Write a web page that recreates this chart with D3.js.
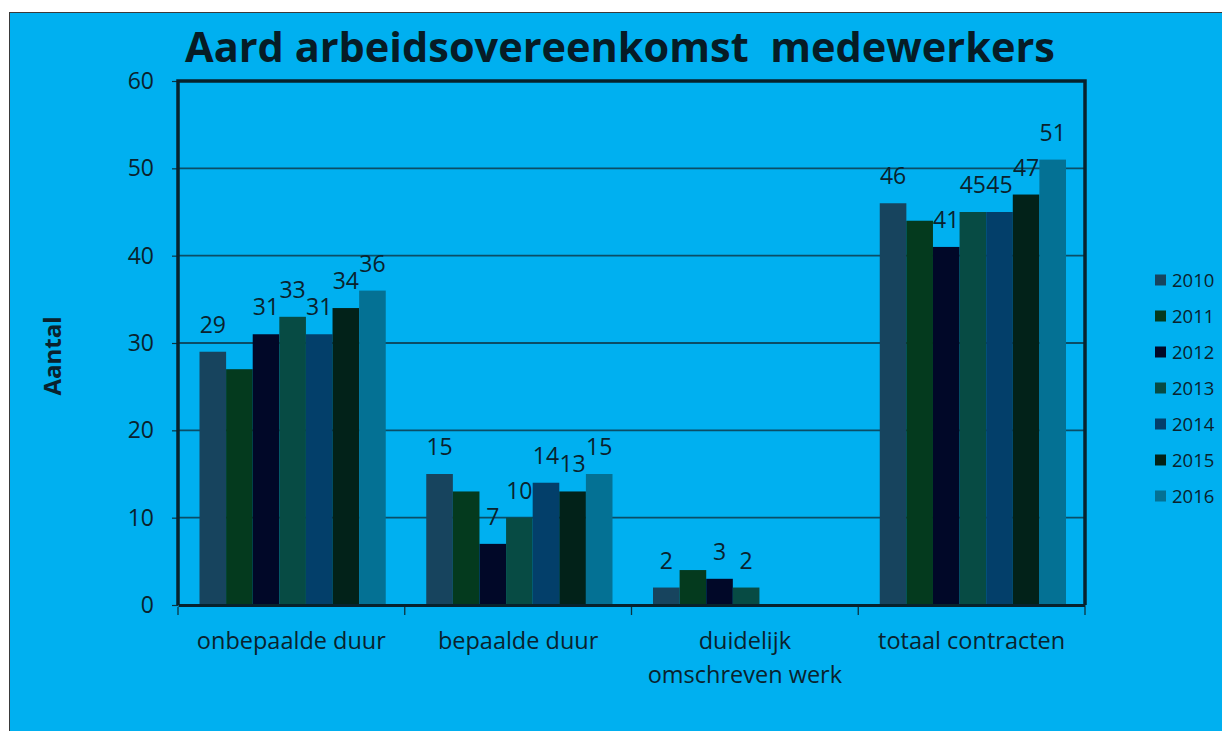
<!DOCTYPE html>
<html>
<head>
<meta charset="utf-8">
<script src="https://cdn.jsdelivr.net/npm/d3@7"></script>
<style>
  html, body { margin: 0; padding: 0; background: #ffffff; }
  svg { display: block; }
  text { font-family: "Open Sans", "Noto Sans", sans-serif; }
</style>
</head>
<body>
<svg id="chart" width="1222" height="731"></svg>
<script>
// ---- data ----
const categories = ["onbepaalde duur", "bepaalde duur", "duidelijk\nomschreven werk", "totaal contracten"];
const years = ["2010", "2011", "2012", "2013", "2014", "2015", "2016"];
const values2010 = [29, 15, 2, 46];
const values2011 = [27, 13, 4, 44];
const values2012 = [31, 7, 3, 41];
const values2013 = [33, 10, 2, 45];
const values2014 = [31, 14, 0, 45];
const values2015 = [34, 13, 0, 47];
const values2016 = [36, 15, 0, 51];
const yTicks = [0, 10, 20, 30, 40, 50, 60];
const yearsWithoutLabels = ["2011"];
const colors = ["#17445e", "#043a1e", "#010828", "#074b44", "#033f6a", "#022219", "#047194"];

const seriesValues = [values2010, values2011, values2012, values2013, values2014, values2015, values2016];
const rows = [];
categories.forEach((c, ci) => {
  years.forEach((y, yi) => rows.push({ cat: c, year: y, value: seriesValues[yi][ci], yi }));
});

// ---- layout ----
const svg = d3.select("#chart");
const plot = { left: 178, right: 1085, top: 81, bottom: 605 };
const textColor = "#0a222d";

svg.append("rect").attr("x", 9.5).attr("y", 12.5).attr("width", 1222).attr("height", 730)
  .attr("fill", "#00b0f0").attr("stroke", "#3a3a3a").attr("stroke-width", 1);

const x0 = d3.scaleBand().domain(categories).range([plot.left, plot.right]).padding(0);
const x1 = d3.scaleBand().domain(years).range([21.5, x0.bandwidth() - 19]).padding(0);
const y = d3.scaleLinear().domain([0, 60]).range([plot.bottom, plot.top]);
const color = d3.scaleOrdinal().domain(years).range(colors);

// title
svg.append("text").attr("x", 620).attr("y", 62).attr("text-anchor", "middle")
  .attr("font-size", 41.5).attr("font-weight", 700).attr("fill", "#061c26")
  .attr("xml:space", "preserve")
  .text("Aard arbeidsovereenkomst  medewerkers");

// gridlines
svg.append("g").selectAll("line").data(yTicks.filter(t => t > 0 && t < 60)).join("line")
  .attr("x1", plot.left).attr("x2", plot.right)
  .attr("y1", d => y(d)).attr("y2", d => y(d))
  .attr("stroke", "#0b4d66").attr("stroke-width", 1.8);

// y axis ticks + labels
const yAxis = d3.axisLeft(y).tickValues(yTicks).tickSize(6).tickPadding(18);
const gy = svg.append("g").attr("transform", `translate(${plot.left},0)`).call(yAxis);
gy.select(".domain").remove();
gy.selectAll(".tick line").attr("stroke", "#0b3340").attr("stroke-width", 1.2);
gy.selectAll(".tick text").attr("font-size", 23).attr("fill", textColor)
  .attr("font-family", "'Open Sans', sans-serif");

// bars
svg.append("g").selectAll("rect").data(rows.filter(d => d.value > 0)).join("rect")
  .attr("x", d => x0(d.cat) + x1(d.year))
  .attr("y", d => y(d.value))
  .attr("width", x1.bandwidth())
  .attr("height", d => y(0) - y(d.value))
  .attr("fill", d => color(d.year));

// data labels
svg.append("g").selectAll("text")
  .data(rows.filter(d => d.value > 0 && !yearsWithoutLabels.includes(d.year))).join("text")
  .attr("x", d => x0(d.cat) + x1(d.year) + x1.bandwidth() / 2)
  .attr("y", d => y(d.value) - 19)
  .attr("text-anchor", "middle").attr("font-size", 23).attr("fill", textColor)
  .text(d => d.value);

// frame: top, left, right
svg.append("path")
  .attr("d", `M${plot.left},${plot.bottom}V${plot.top}H${plot.right}V${plot.bottom}`)
  .attr("fill", "none").attr("stroke", "#07222d").attr("stroke-width", 3.5);

// x axis
const xAxis = d3.axisBottom(x0).tickSize(0).tickFormat("");
const gx = svg.append("g").attr("transform", `translate(0,${plot.bottom})`).call(xAxis);
gx.select(".domain").attr("stroke", "#07222d").attr("stroke-width", 3);
gx.selectAll(".tick").remove();
const boundaries = categories.map(c => x0(c)).concat([plot.right]);
svg.append("g").selectAll("line").data(boundaries).join("line")
  .attr("x1", d => d).attr("x2", d => d)
  .attr("y1", plot.bottom + 2).attr("y2", plot.bottom + 10)
  .attr("stroke", "#0b3340").attr("stroke-width", 1.3);

// category labels
const catLabels = svg.append("g").selectAll("text").data(categories).join("text")
  .attr("x", d => x0(d) + x0.bandwidth() / 2)
  .attr("y", 649)
  .attr("text-anchor", "middle").attr("font-size", 23.5).attr("fill", textColor);
catLabels.each(function (d) {
  const parts = d.split("\n");
  const t = d3.select(this);
  parts.forEach((p, i) => {
    t.append("tspan").attr("x", x0(d) + x0.bandwidth() / 2).attr("dy", i === 0 ? 0 : 34).text(p);
  });
});

// y axis title
svg.append("text")
  .attr("transform", "translate(61,356) rotate(-90)")
  .attr("text-anchor", "middle").attr("font-size", 24).attr("font-weight", 700)
  .attr("fill", textColor).text("Aantal");

// legend
const legend = svg.append("g").selectAll("g").data(years).join("g")
  .attr("transform", (d, i) => `translate(1155,${280 + i * 36})`);
legend.append("rect").attr("x", 0).attr("y", -5.5).attr("width", 11).attr("height", 11)
  .attr("fill", d => color(d));
legend.append("text").attr("x", 17).attr("y", 6.5).attr("font-size", 18.5)
  .attr("fill", textColor).text(d => d);
</script>
</body>
</html>
